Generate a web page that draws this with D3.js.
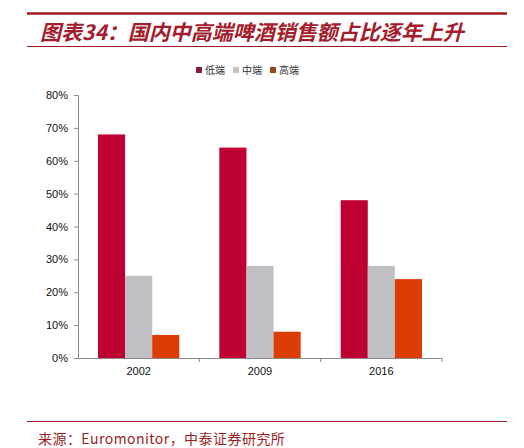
<!DOCTYPE html>
<html>
<head>
<meta charset="utf-8">
<script src="https://cdn.jsdelivr.net/npm/d3@7"></script>
<style>
  body { margin: 0; background: #fff; }
  svg { display: block; }
</style>
</head>
<body>
<svg id="chart" width="524" height="448"></svg>
<script>
  // chart data
  var years = ['2002', '2009', '2016'];
  var segments = ['低端', '中端', '高端'];
  var lowEnd = [68, 64, 48];
  var midEnd = [25, 28, 28];
  var highEnd = [7, 8, 24];
  var yTicks = [0, 10, 20, 30, 40, 50, 60, 70, 80];

  var barColors = ['#be0032', '#c0bfc3', '#de3c05'];
  var legendColors = ['#8c1c3c', '#c4c4c4', '#9a4a20'];

  var series = [lowEnd, midEnd, highEnd];

  var svg = d3.select('#chart');

  // header
  svg.append('line')
    .attr('x1', 27).attr('x2', 507)
    .attr('y1', 13.5).attr('y2', 13.5)
    .attr('stroke', '#9e1b24').attr('stroke-width', 2.5);

  svg.append('text')
    .attr('x', 40).attr('y', 40)
    .attr('fill', '#a51c2c')
    .style('font-family', '"Noto Sans CJK SC", sans-serif')
    .style('font-size', '21px')
    .style('font-weight', 'bold')
    .style('font-style', 'italic')
    .text('图表34：国内中高端啤酒销售额占比逐年上升');

  svg.append('line')
    .attr('x1', 27).attr('x2', 507)
    .attr('y1', 46.5).attr('y2', 46.5)
    .attr('stroke', '#9e1b24').attr('stroke-width', 1);

  // scales
  var pad = 0.33;
  var x0 = d3.scaleBand()
    .domain(years)
    .range([78, 442])
    .paddingInner(pad)
    .paddingOuter(pad / 2);

  var x1 = d3.scaleBand()
    .domain(segments)
    .range([0, x0.bandwidth()]);

  var y = d3.scaleLinear()
    .domain([0, 80])
    .range([358, 95]);

  // bars
  var groups = svg.selectAll('.year')
    .data(years)
    .enter()
    .append('g')
    .attr('class', 'year')
    .attr('transform', function (d) { return 'translate(' + x0(d) + ',0)'; });

  groups.selectAll('rect')
    .data(function (d, i) {
      return segments.map(function (s, j) {
        return { seg: s, value: series[j][i], k: j };
      });
    })
    .enter()
    .append('rect')
    .attr('x', function (d) { return x1(d.seg); })
    .attr('y', function (d) { return y(d.value); })
    .attr('width', x1.bandwidth())
    .attr('height', function (d) { return y(0) - y(d.value); })
    .attr('fill', function (d) { return barColors[d.k]; });

  // y axis
  var yAxis = svg.append('g')
    .attr('transform', 'translate(78,0)')
    .call(d3.axisLeft(y)
      .tickValues(yTicks)
      .tickSize(4)
      .tickPadding(6)
      .tickFormat(function (d) { return d + '%'; }));

  yAxis.select('.domain').attr('stroke', '#8c8c8c');
  yAxis.selectAll('.tick line').attr('stroke', '#8c8c8c');
  yAxis.selectAll('.tick text')
    .attr('fill', '#111')
    .style('font-family', '"Liberation Sans", Arial, sans-serif')
    .style('font-size', '11px');

  // x axis, ticks sit between the categories
  var xAxis = svg.append('g')
    .attr('transform', 'translate(0,358)');
  xAxis.append('line')
    .attr('x1', 78).attr('x2', 442)
    .attr('y1', 0.5).attr('y2', 0.5)
    .attr('stroke', '#8c8c8c');
  xAxis.selectAll('.edge')
    .data(years)
    .enter()
    .append('line')
    .attr('class', 'edge')
    .attr('x1', function (d) { return x0(d) + x0.bandwidth() + x0.step() * pad / 2; })
    .attr('x2', function (d) { return x0(d) + x0.bandwidth() + x0.step() * pad / 2; })
    .attr('y1', 0).attr('y2', 4)
    .attr('stroke', '#8c8c8c');
  xAxis.selectAll('.lbl')
    .data(years)
    .enter()
    .append('text')
    .attr('class', 'lbl')
    .attr('x', function (d) { return x0(d) + x0.bandwidth() / 2; })
    .attr('y', 17)
    .attr('text-anchor', 'middle')
    .attr('fill', '#111')
    .style('font-family', '"Liberation Sans", Arial, sans-serif')
    .style('font-size', '11px')
    .text(function (d) { return d; });

  // legend
  var legendX = [196, 233, 270];
  var legend = svg.selectAll('.legend')
    .data(segments)
    .enter()
    .append('g')
    .attr('class', 'legend')
    .attr('transform', function (d, i) { return 'translate(' + legendX[i] + ',67)'; });
  legend.append('rect')
    .attr('width', 6).attr('height', 6)
    .attr('fill', function (d, i) { return legendColors[i]; });
  legend.append('text')
    .attr('x', 9).attr('y', 7)
    .attr('fill', '#333')
    .style('font-family', '"Noto Sans CJK SC", sans-serif')
    .style('font-size', '10px')
    .text(function (d) { return d; });

  // footer
  svg.append('line')
    .attr('x1', 27).attr('x2', 507)
    .attr('y1', 421.5).attr('y2', 421.5)
    .attr('stroke', '#9e1b24').attr('stroke-width', 1);

  svg.append('text')
    .attr('x', 38).attr('y', 444)
    .attr('fill', '#9a1f24')
    .style('font-family', '"Noto Sans CJK SC", sans-serif')
    .style('font-size', '14px')
    .style('letter-spacing', '0.45px')
    .text('来源：Euromonitor，中泰证券研究所');
</script>
</body>
</html>
